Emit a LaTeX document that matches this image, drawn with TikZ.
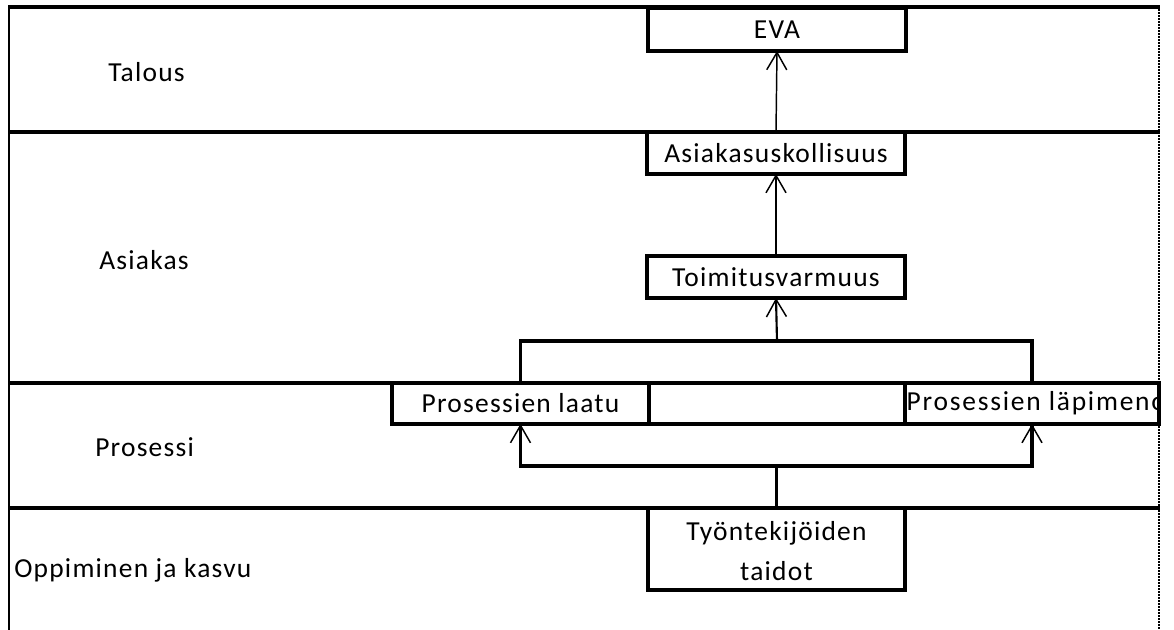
\documentclass[tikz,border=0pt]{standalone}
\usepackage{fontspec}
\setmainfont{Carlito}[LetterSpace=4.5]
\usetikzlibrary{arrows.meta}
\newcommand\lblfont{\fontsize{20.6pt}{30pt}\selectfont}
\tikzset{
  lane/.style={line width=2.7pt},
  kbox/.style={draw, line width=2.4pt, rectangle, inner sep=0pt, outer sep=0pt, fill=white, font=\lblfont, align=center},
  lbl/.style={font=\lblfont, inner sep=0pt, anchor=base west},
  brk/.style={line width=2.7pt},
  arr/.style={line width=1.1pt, -{Straight Barb[length=13pt,width=15pt,line width=1.1pt]}},
  tarr/.style={line width=2.7pt, -{Straight Barb[length=13pt,width=15pt,line width=1.1pt]}},
}
\begin{document}
\begin{tikzpicture}[x=0.75pt,y=-0.75pt]
\useasboundingbox (0,0) rectangle (1174,630);
% frame and lanes
\draw[line width=2pt] (9,630) -- (9,6);
\draw[line width=0.9pt, dash pattern=on 1.5pt off 0.75pt] (1159,6) -- (1159,630);
\draw[lane] (8,7) -- (1160,7);
\draw[lane] (8,132) -- (1160,132);
\draw[lane] (8,383) -- (1160,383);
\draw[lane] (8,508) -- (1160,508);
% lane labels
\node[lbl] (tal) at (108,82) {Talous};
\node[lbl] (asiak) at (99,270) {Asiakas};
\node[lbl] (pros) at (95,457) {Prosessi};
\node[lbl] (opp) at (14,577) {Oppiminen ja kasvu};
% boxes
\node[kbox, minimum width=193.5pt, minimum height=32.25pt] (eva) at (777,29.5) {EVA};
\node[kbox, minimum width=193.5pt, minimum height=31.5pt] (asi) at (776,153) {Asiakasuskollisuus};
\node[kbox, minimum width=193.5pt, minimum height=31.5pt] (toim) at (776,277) {Toimitusvarmuus};
\node[kbox, minimum width=192.75pt, minimum height=30.75pt] (laatu) at (520.5,403.5) {Prosessien laatu};
\node[kbox, minimum width=192pt, minimum height=30.75pt] (mid) at (777,403.5) {};
\node[kbox, minimum width=190.5pt, minimum height=30.75pt] (lapi) at (1032,403.5) {};
\begin{scope}
  \clip (906,385) rectangle (1158,422);
  \node[font=\lblfont\addfontfeatures{LetterSpace=6.5}, inner sep=0pt, anchor=west] (lapitxt) at ([xshift=1pt]lapi.west) {Prosessien läpimeno};
\end{scope}
\node[kbox, minimum width=192.75pt, minimum height=61.5pt] (tyo) at (776.5,549) {};
\node[font=\lblfont, align=center, inner sep=0pt] (tyotxt) at (776.5,551) {Työntekijöiden\\taidot};
% junctions
\coordinate (j1) at (777,341);
\coordinate (j2) at (776.5,466);
% connectors
\draw[arr] (asi.north) -- (eva.south);
\draw[arr] (toim.north) -- (asi.south);
\draw[brk] (laatu.north) |- (j1) -| (lapi.north);
\draw[arr, line width=1.6pt] (j1) -- (toim.south);
\draw[brk] (tyo.north) -- (j2);
\draw[tarr] (j2) -| (laatu.south);
\draw[tarr] (j2) -| (lapi.south);
\end{tikzpicture}
\end{document}
